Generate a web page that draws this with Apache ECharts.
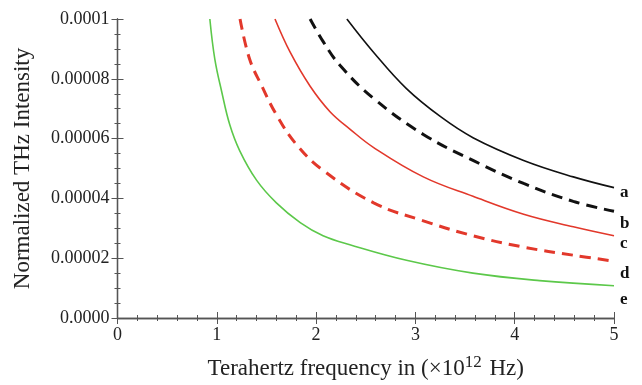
<!DOCTYPE html>
<html><head><meta charset="utf-8">
<script src="https://cdn.jsdelivr.net/npm/echarts@6/dist/echarts.min.js"></script>
<style>html,body{margin:0;padding:0;background:#fff}#c{width:642px;height:385px}</style>
</head><body><div id="c"></div>
<script>
// Curve data: [frequency (x10^12 Hz), normalized intensity]
const curveA = [[2.31,1.0e-4],[2.58,0.888e-4],[2.91,0.767e-4],[3.25,0.674e-4],[3.58,0.603e-4],[4.09,0.527e-4],[4.59,0.472e-4],[5.0,0.436e-4]];
const curveB = [[1.94,1.0e-4],[2.07,0.925e-4],[2.24,0.845e-4],[2.58,0.734e-4],[3.08,0.614e-4],[3.58,0.527e-4],[4.09,0.45e-4],[4.59,0.39e-4],[5.0,0.357e-4]];
const curveC = [[1.586,1.0e-4],[1.74,0.888e-4],[1.94,0.775e-4],[2.14,0.69e-4],[2.34,0.632e-4],[2.58,0.57e-4],[3.08,0.472e-4],[3.58,0.407e-4],[4.09,0.347e-4],[4.59,0.305e-4],[5.0,0.275e-4]];
const curveD = [[1.234,1.0e-4],[1.33,0.866e-4],[1.45,0.778e-4],[1.60,0.68e-4],[1.80,0.581e-4],[2.07,0.494e-4],[2.58,0.385e-4],[3.08,0.325e-4],[3.58,0.275e-4],[4.09,0.237e-4],[4.59,0.21e-4],[5.0,0.19e-4]];
const curveE = [[0.93,1.0e-4],[0.98,0.866e-4],[1.05,0.756e-4],[1.13,0.647e-4],[1.23,0.56e-4],[1.40,0.461e-4],[1.60,0.385e-4],[1.84,0.319e-4],[2.07,0.275e-4],[2.34,0.245e-4],[2.91,0.193e-4],[3.58,0.15e-4],[4.25,0.125e-4],[5.0,0.108e-4]];
const curveLabels = ['a','b','c','d','e'];
const xTicks = [0,1,2,3,4,5];
const yTickLabels = {0:'0.0000',0.00002:'0.00002',0.00004:'0.00004',0.00006:'0.00006',0.00008:'0.00008',0.0001:'0.0001'};

const serif = '"Liberation Serif","DejaVu Serif",serif';
const chart = echarts.init(document.getElementById('c'), null, {renderer:'canvas'});
const axisLine = {show:true, lineStyle:{color:'#555', width:1.3}};
const tick = {show:true, inside:true, length:6, lineStyle:{color:'#555'}};
function mkSeries(data, idx, color, dashed, width, off){
  return {
    type:'line', data:data, smooth:0.4, showSymbol:false, symbol:'none',
    clip:true, silent:true,
    lineStyle:{color:color, width:width, type: dashed ? [11,7] : 'solid'},
    endLabel:{show:true, formatter:curveLabels[idx], color:'#111', fontFamily:serif, fontWeight:'bold', fontSize:17, offset:off, distance:6}
  };
}
chart.setOption({
  animation:false,
  grid:{left:117.5, right:28, top:19, bottom:61, containLabel:false},
  xAxis:[{
    type:'value', min:0, max:5, interval:1, position:'bottom',
    axisLine:axisLine, axisTick:tick,
    minorTick:{show:true, splitNumber:5, length:3, lineStyle:{color:'#555'}},
    splitLine:{show:false},
    axisLabel:{color:'#222', fontFamily:serif, fontSize:18, margin:8, formatter:v=>String(v)},
    name:'{t|Terahertz frequency in (×10}{s|12}{t| Hz)}', nameLocation:'middle', nameGap:36,
    nameTextStyle:{rich:{t:{fontFamily:serif, fontSize:23, color:'#222'}, s:{fontFamily:serif, fontSize:17, color:'#222', verticalAlign:'top', padding:[0,2,12,0]}}}
  },{
    type:'value', min:0, max:5, interval:1, position:'top',
    axisLine:axisLine, axisTick:tick,
    minorTick:{show:true, splitNumber:5, length:3, lineStyle:{color:'#555'}},
    splitLine:{show:false}, axisLabel:{show:false}
  }],
  yAxis:[{
    type:'value', min:0, max:0.0001, interval:0.00002, position:'left',
    axisLine:axisLine, axisTick:tick,
    minorTick:{show:true, splitNumber:4, length:3, lineStyle:{color:'#555'}},
    splitLine:{show:false},
    axisLabel:{color:'#222', fontFamily:serif, fontSize:18, margin:8,
      formatter:function(v){ const k=Object.keys(yTickLabels).find(key=>Math.abs(+key-v)<1e-9); return k!==undefined?yTickLabels[k]:''; }},
    name:'Normalized THz Intensity', nameLocation:'middle', nameGap:83,
    nameTextStyle:{fontFamily:serif, fontSize:23, color:'#222'}
  },{
    type:'value', min:0, max:0.0001, interval:0.00002, position:'right',
    axisLine:axisLine, axisTick:tick,
    minorTick:{show:true, splitNumber:4, length:3, lineStyle:{color:'#555'}},
    splitLine:{show:false}, axisLabel:{show:false}
  }],
  series:[
    mkSeries(curveA,0,'#111',false,1.6,[0,5]),
    mkSeries(curveB,1,'#111',true,3,[0,12]),
    mkSeries(curveC,2,'#e2382b',false,1.6,[0,8]),
    mkSeries(curveD,3,'#e2382b',true,3,[0,12]),
    mkSeries(curveE,4,'#5cc84a',false,1.6,[0,14])
  ]
});
</script></body></html>
